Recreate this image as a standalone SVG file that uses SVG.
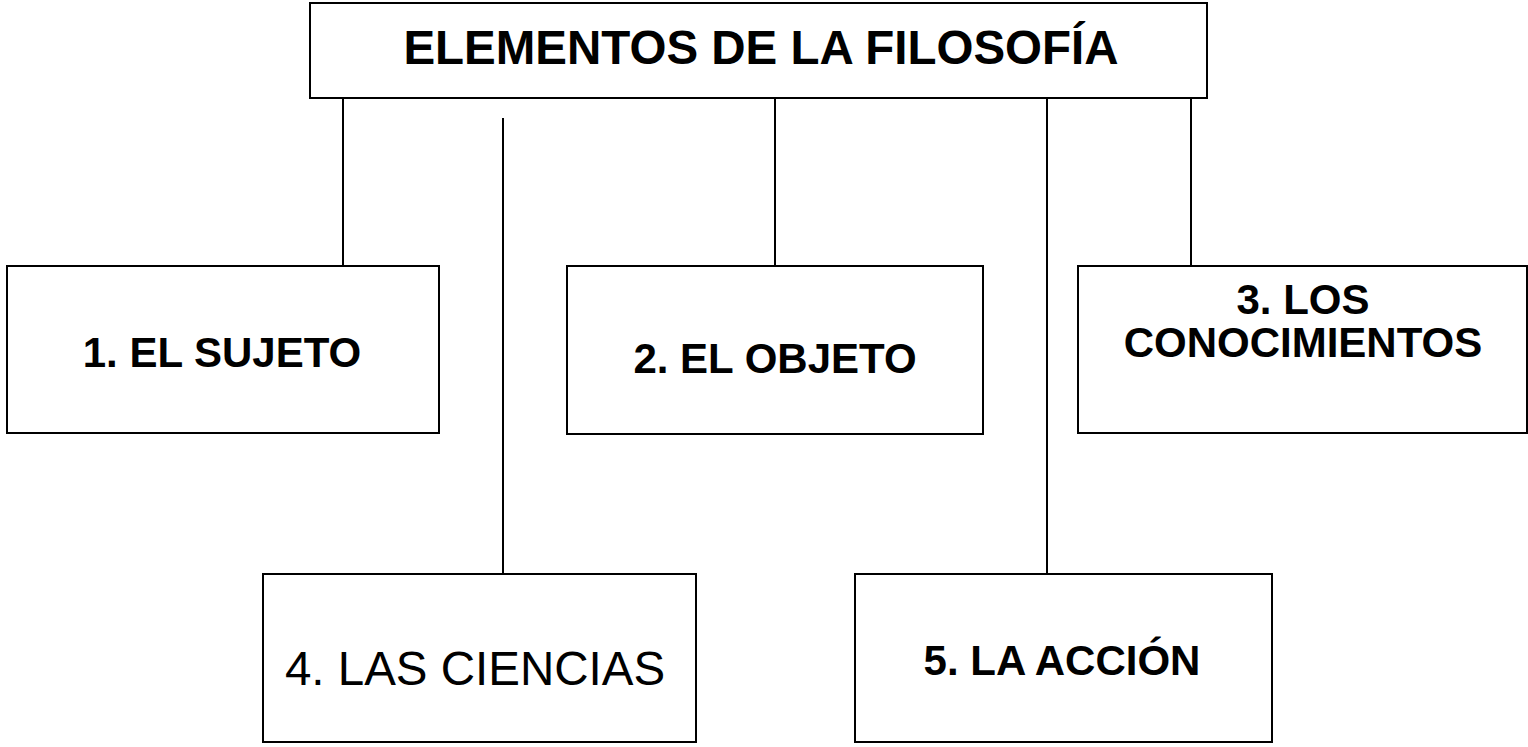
<svg xmlns="http://www.w3.org/2000/svg" width="1528" height="747" viewBox="0 0 1528 747">
<style>
.box{fill:#fff;stroke:#000;stroke-width:2}
.ln{stroke:#000;stroke-width:2;fill:none}
.t{font-family:"Liberation Sans",Arial,sans-serif;fill:#000;text-anchor:middle}
.b{font-weight:bold;font-size:42px}
</style>
<rect width="1528" height="747" fill="#fff"/>
<g id="connectors">
<line class="ln" x1="343" y1="98" x2="343" y2="266"/>
<line class="ln" x1="503" y1="118" x2="503" y2="574"/>
<line class="ln" x1="775" y1="98" x2="775" y2="266"/>
<line class="ln" x1="1047" y1="98" x2="1047" y2="578"/>
<line class="ln" x1="1191" y1="98" x2="1191" y2="266"/>
</g>
<g id="title">
<rect class="box" x="310" y="3" width="897" height="95"/>
<text class="t" x="761" y="64" font-size="47.5" font-weight="bold">ELEMENTOS DE LA FILOSOFÍA</text>
</g>
<g id="n1">
<rect class="box" x="7" y="266" width="432" height="167"/>
<text class="t b" x="222" y="367">1. EL SUJETO</text>
</g>
<g id="n2">
<rect class="box" x="567" y="266" width="416" height="168"/>
<text class="t b" x="775" y="373">2. EL OBJETO</text>
</g>
<g id="n3">
<rect class="box" x="1078" y="266" width="449" height="167"/>
<text class="t b" x="1303" y="314">3. LOS</text>
<text class="t b" x="1303" y="357">CONOCIMIENTOS</text>
</g>
<g id="n4">
<rect class="box" x="263" y="574" width="433" height="168"/>
<text class="t" x="475" y="685" font-size="47.5">4. LAS CIENCIAS</text>
</g>
<g id="n5">
<rect class="box" x="855" y="574" width="417" height="168"/>
<text class="t b" x="1062" y="675">5. LA ACCIÓN</text>
</g>
</svg>
